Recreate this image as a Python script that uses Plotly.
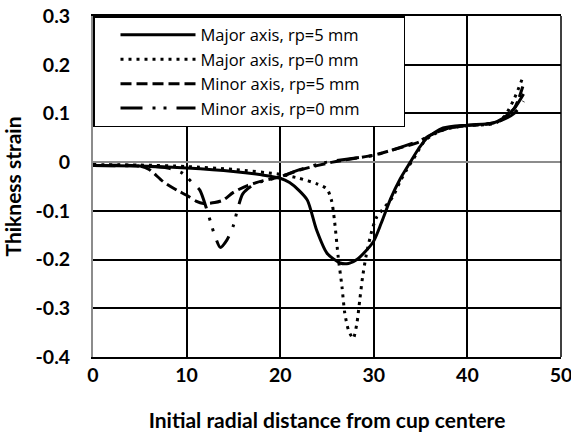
import plotly.graph_objects as go

# Thickness strain along the major/minor axes for two punch radii
major_rp5_x = [0, 5, 10, 15, 18, 20, 21, 22, 22.9, 23.9, 25, 26.4, 27.3, 28.2, 29.9, 30.8, 31.8, 32.8, 33.9, 34.8, 35.7, 37.4, 40, 42.7, 43.8, 45, 46]
major_rp5_y = [-0.007, -0.008, -0.012, -0.019, -0.026, -0.033, -0.042, -0.058, -0.078, -0.14, -0.187, -0.207, -0.208, -0.2, -0.165, -0.125, -0.075, -0.035, 0.0, 0.028, 0.05, 0.07, 0.076, 0.08, 0.09, 0.11, 0.14]

major_rp0_x = [0, 5, 10, 15, 20, 22, 24, 25, 25.5, 25.8, 26.2, 26.6, 26.9, 27.3, 27.8, 28.2, 28.5, 28.8, 29.2, 29.8, 30.3, 30.9, 32, 32.8, 33.5, 34.5, 35.5, 37, 38.5, 40, 42, 43, 44, 45, 46]
major_rp0_y = [-0.005, -0.006, -0.009, -0.015, -0.025, -0.033, -0.045, -0.055, -0.08, -0.12, -0.195, -0.256, -0.31, -0.345, -0.362, -0.33, -0.283, -0.236, -0.19, -0.14, -0.113, -0.098, -0.072, -0.04, -0.016, 0.015, 0.045, 0.063, 0.071, 0.075, 0.077, 0.08, 0.095, 0.13, 0.178]

minor_rp5_x = [0, 5, 6, 7.5, 9, 10, 11, 11.8, 13, 13.9, 15, 16.5, 18.2, 20, 22.1, 25.6, 29.9, 32, 34.9, 36, 38, 40, 42, 43.5, 45, 46]
minor_rp5_y = [-0.007, -0.008, -0.015, -0.04, -0.058, -0.068, -0.08, -0.085, -0.083, -0.078, -0.062, -0.048, -0.038, -0.03, -0.016, 0.0, 0.014, 0.025, 0.042, 0.055, 0.07, 0.075, 0.078, 0.085, 0.11, 0.16]

minor_rp0_x = [0, 5, 8, 9.5, 10.5, 11.4, 12.2, 13, 13.6, 14.3, 15, 15.4, 16, 17, 18, 20, 22, 25, 30, 32, 35, 36, 38, 40, 42, 43.5, 45, 46]
minor_rp0_y = [-0.007, -0.008, -0.012, -0.022, -0.04, -0.057, -0.1, -0.15, -0.175, -0.16, -0.13, -0.1, -0.065, -0.048, -0.04, -0.03, -0.016, 0.0, 0.014, 0.025, 0.045, 0.055, 0.07, 0.075, 0.078, 0.085, 0.1, 0.125]

series_names = ["Major axis, rp=5 mm", "Major axis, rp=0 mm", "Minor axis, rp=5 mm", "Minor axis, rp=0 mm"]

y_tick_vals = [0.3, 0.2, 0.1, 0, -0.1, -0.2, -0.3, -0.4]
y_tick_text = ["0.3", "0.2", "0.1", "0", "-0.1", "-0.2", "-0.3", "-0.4"]
x_tick_vals = [0, 10, 20, 30, 40, 50]
x_tick_text = ["0", "10", "20", "30", "40", "50"]

FONT = "Lato"
LEGEND_FONT = "Open Sans"
PAD = "\u00a0" * 9  # extra room at the right of the legend box

fig = go.Figure()
dash_styles = ["solid", "3px,5px", "11px,5px", "22px,10px,3px,8px,3px,10px"]
data = [(major_rp5_x, major_rp5_y), (major_rp0_x, major_rp0_y),
        (minor_rp5_x, minor_rp5_y), (minor_rp0_x, minor_rp0_y)]
for name, (xs, ys), dash in zip(series_names, data, dash_styles):
    fig.add_trace(go.Scatter(
        x=xs, y=ys, mode="lines", name=name + PAD,
        line=dict(color="black", width=3, dash=dash, shape="spline", smoothing=0.7),
    ))

fig.update_layout(
    width=571, height=436,
    margin=dict(l=93, r=10, t=16, b=79, autoexpand=False),
    paper_bgcolor="white", plot_bgcolor="white",
    font=dict(family=FONT, color="black", size=19),
    showlegend=True,
    legend=dict(
        x=0, y=1, xanchor="left", yanchor="top",
        bgcolor="white", bordercolor="black", borderwidth=1.5,
        font=dict(family=LEGEND_FONT, size=16.5, color="black"),
        itemwidth=75, tracegroupgap=0, indentation=21,
    ),
)
fig.update_xaxes(
    range=[0, 50], tickvals=x_tick_vals, ticktext=x_tick_text,
    showgrid=True, gridcolor="black", gridwidth=1.5,
    zeroline=False, showline=True, linecolor="black", linewidth=1.5, mirror=True,
    ticks="", tickfont=dict(family=FONT, size=19.5, color="black", weight="bold"),
    ticklabelstandoff=0, ticklabeloverflow="allow",
    title=dict(text="<b>Initial radial distance from cup centere</b>",
               font=dict(family=FONT, size=21, color="black"), standoff=28),
)
fig.update_yaxes(
    range=[-0.4, 0.3], tickvals=y_tick_vals, ticktext=y_tick_text,
    showgrid=True, gridcolor="black", gridwidth=1.5,
    zeroline=True, zerolinecolor="#8c8c8c", zerolinewidth=2,
    showline=True, linecolor="#8c8c8c", linewidth=2,
    ticks="", tickfont=dict(family=FONT, size=19.5, color="black", weight="bold"),
    ticklabelstandoff=17, ticklabeloverflow="allow",
    title=dict(text="<b>Thikness strain</b>",
               font=dict(family=FONT, size=21, color="black"), standoff=10),
)
# right-hand frame edge
fig.add_shape(type="line", xref="paper", yref="paper", x0=1, x1=1, y0=0, y1=1,
              line=dict(color="black", width=1.5))

fig.write_html("out.html")
